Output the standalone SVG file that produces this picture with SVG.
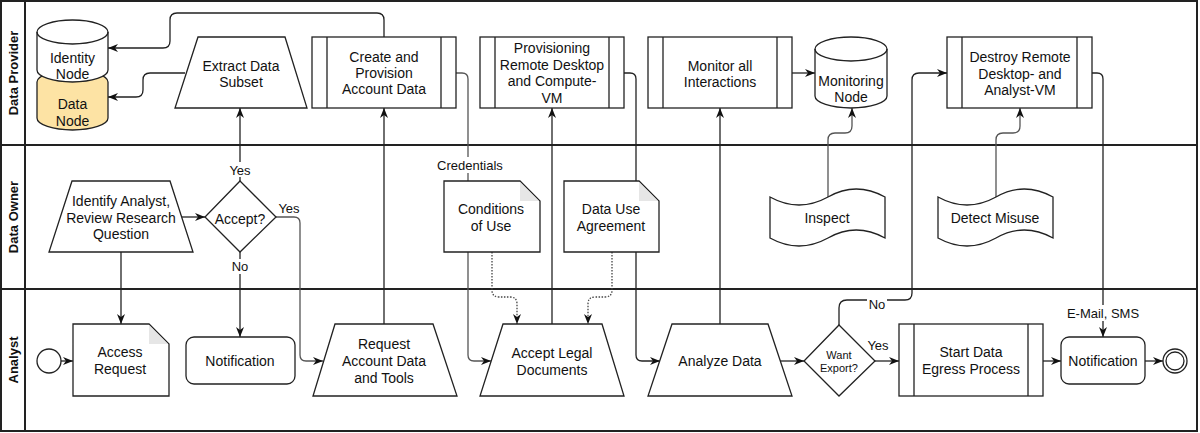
<svg xmlns="http://www.w3.org/2000/svg" width="1200" height="433" viewBox="0 0 1200 433">
<style>
.s{fill:#fff;stroke:#222;stroke-width:1.3}
.il{fill:none;stroke:#222;stroke-width:1.3}
.t{font-family:"Liberation Sans",Arial,sans-serif;font-size:14px;fill:#111;text-anchor:middle;dominant-baseline:central}
.lbl{font-family:"Liberation Sans",Arial,sans-serif;font-size:13px;fill:#111;text-anchor:middle;dominant-baseline:central}
.lane{font-family:"Liberation Sans",Arial,sans-serif;font-size:13px;font-weight:bold;fill:#111;text-anchor:middle;dominant-baseline:central}
.c{fill:none;stroke:#222;stroke-width:1.3;marker-end:url(#arr)}
.cg{fill:none;stroke:#555;stroke-width:1.3;marker-end:url(#arr)}
.d{fill:none;stroke:#444;stroke-width:1.3;stroke-dasharray:1.5 1.5;marker-end:url(#arr)}
.fold{fill:#e6e6e6;stroke:none}
.lb{fill:#fff;stroke:none}
.bd{fill:none;stroke:#222;stroke-width:2}
</style>
<defs>
<marker id="arr" viewBox="0 0 10 8" refX="10" refY="4" markerWidth="10" markerHeight="8" markerUnits="userSpaceOnUse" orient="auto"><path d="M0,0 L10,4 L0,8 L3,4 Z" fill="#111"/></marker>
</defs>
<rect x="0" y="0" width="1200" height="433" fill="#fff"/>
<g id="lanes">
<rect class="bd" x="1" y="1" width="1196" height="430"/>
<line class="bd" x1="25" y1="1" x2="25" y2="431"/>
<line class="bd" x1="1" y1="145" x2="1197" y2="145"/>
<line class="bd" x1="1" y1="289" x2="1197" y2="289"/>
<text class="lane" transform="translate(13,73) rotate(-90)">Data Provider</text>
<text class="lane" transform="translate(13,217) rotate(-90)">Data Owner</text>
<text class="lane" transform="translate(13,360) rotate(-90)">Analyst</text>
</g>
<g id="connectors">
<path class="c" d="M384,37 V20 Q384,13 377,13 H177 Q170,13 170,20 V41 Q170,48 163,48 H108"/>
<path class="c" d="M185,73 H150 Q143,73 143,80 V90 Q143,97 136,97 H108"/>
<path class="c" d="M240,181 V108"/>
<path class="c" d="M240,252 V337"/>
<path class="cg" d="M276,217 H294 Q300,217 300,223 V355 Q300,361 306,361 H323"/>
<path class="c" d="M182,217 H205"/>
<path class="c" d="M121,252 V324"/>
<path class="c" d="M61,361 H73"/>
<path class="c" d="M384,324 V108"/>
<path class="cg" d="M456,73 H462 Q468,73 468,79 V355 Q468,361 474,361 H491"/>
<path class="c" d="M552,324 V108"/>
<path class="d" d="M492,252 V290 Q492,297 499,297 H510 Q517,297 517,304 V324"/>
<path class="d" d="M612,252 V290 Q612,297 605,297 H595 Q588,297 588,304 V324"/>
<path class="c" d="M624,73 H630 Q636,73 636,79 V355 Q636,361 642,361 H660"/>
<path class="c" d="M720,324 V108"/>
<path class="c" d="M792,73 H815"/>
<path class="c" d="M780,361 H804"/>
<path class="c" d="M875,361 H899"/>
<path class="c" d="M839,325 V308 Q839,300 847,300 H905 Q912,300 912,293 V80 Q912,73 919,73 H947"/>
<path class="cg" d="M828,197 V140 Q828,133 835,133 H845 Q852,133 852,126 V108"/>
<path class="cg" d="M996,197 V140 Q996,133 1003,133 H1013 Q1020,133 1020,126 V108"/>
<path class="c" d="M1092,73 H1097 Q1103,73 1103,79 V337"/>
<path class="c" d="M1043,361 H1061"/>
<path class="c" d="M1145,361 H1163"/>
<rect class="lb" x="228" y="162" width="24" height="15"/>
<text class="lbl" x="240" y="170">Yes</text>
<rect class="lb" x="231" y="259" width="18" height="15"/>
<text class="lbl" x="240" y="266">No</text>
<text class="lbl" x="289" y="208">Yes</text>
<rect class="lb" x="437" y="157" width="66" height="16"/>
<text class="lbl" x="470" y="165">Credentials</text>
<rect class="lb" x="867" y="297" width="20" height="15"/>
<text class="lbl" x="877" y="304">No</text>
<text class="lbl" x="878" y="345">Yes</text>
<rect class="lb" x="1066" y="305" width="74" height="16"/>
<text class="lbl" x="1103" y="313">E-Mail, SMS</text>
</g>
<g id="data-node">
<path class="s" d="M37,82 A35.5,12 0 0 1 108,82 V118 A35.5,12 0 0 1 37,118 Z" style="fill:#fde3a4"/>
<text class="t" x="72.5" y="104">Data</text>
<text class="t" x="72.5" y="121">Node</text>
</g>
<g id="identity-node">
<path class="s" d="M37,32 A35.5,12 0 0 1 108,32 V70 A35.5,12 0 0 1 37,70 Z"/>
<path class="il" d="M37,32 A35.5,12 0 0 0 108,32"/>
<text class="t" x="72.5" y="58">Identity</text>
<text class="t" x="72.5" y="74">Node</text>
</g>
<g id="extract">
<path class="s" d="M198,37 H285 L307,108 H175 Z"/>
<text class="t" x="241" y="66">Extract Data</text>
<text class="t" x="241" y="82">Subset</text>
</g>
<g id="create">
<rect class="s" x="312" y="37" width="144" height="71"/>
<path class="il" d="M327,37 V108 M441,37 V108"/>
<text class="t" x="384" y="57">Create and</text>
<text class="t" x="384" y="73">Provision</text>
<text class="t" x="384" y="89">Account Data</text>
</g>
<g id="provisioning">
<rect class="s" x="480" y="37" width="144" height="71"/>
<path class="il" d="M495,37 V108 M609,37 V108"/>
<text class="t" x="552" y="48">Provisioning</text>
<text class="t" x="552" y="65">Remote Desktop</text>
<text class="t" x="552" y="81">and Compute-</text>
<text class="t" x="552" y="98">VM</text>
</g>
<g id="monitor">
<rect class="s" x="648" y="37" width="144" height="71"/>
<path class="il" d="M663,37 V108 M777,37 V108"/>
<text class="t" x="720" y="66">Monitor all</text>
<text class="t" x="720" y="82">Interactions</text>
</g>
<g id="monitoring-node">
<path class="s" d="M815,49 A36,12 0 0 1 887,49 V96 A36,12 0 0 1 815,96 Z"/>
<path class="il" d="M815,49 A36,12 0 0 0 887,49"/>
<text class="t" x="851" y="81">Monitoring</text>
<text class="t" x="851" y="97">Node</text>
</g>
<g id="destroy">
<rect class="s" x="947" y="37" width="145" height="71"/>
<path class="il" d="M962,37 V108 M1077,37 V108"/>
<text class="t" x="1020" y="57">Destroy Remote</text>
<text class="t" x="1020" y="74">Desktop- and</text>
<text class="t" x="1020" y="90">Analyst-VM</text>
</g>
<g id="identify">
<path class="s" d="M72,181 H170 L193,252 H49 Z"/>
<text class="t" x="121" y="201">Identify Analyst,</text>
<text class="t" x="121" y="218">Review Research</text>
<text class="t" x="121" y="234">Question</text>
</g>
<g id="accept-decision">
<path class="s" d="M240,181 L276,217 L240,252 L205,217 Z"/>
<text class="t" x="240" y="219">Accept?</text>
</g>
<g id="conditions">
<path class="s" d="M444,181 H520 L540,201 V252 H444 Z"/>
<path class="fold" d="M520,182 L539,201 H520 Z"/>
<text class="t" x="491" y="209">Conditions</text>
<text class="t" x="491" y="226">of Use</text>
</g>
<g id="agreement">
<path class="s" d="M564,181 H639 L659,201 V252 H564 Z"/>
<path class="fold" d="M639,182 L658,201 H639 Z"/>
<text class="t" x="611" y="209">Data Use</text>
<text class="t" x="611" y="226">Agreement</text>
</g>
<g id="inspect">
<path class="s" d="M770,197 Q799,213 828,197 Q856,181 885,197 V238 Q856,222 828,238 Q799,254 770,238 Z"/>
<text class="t" x="827" y="218">Inspect</text>
</g>
<g id="detect">
<path class="s" d="M938,197 Q967,213 996,197 Q1024,181 1053,197 V238 Q1024,222 996,238 Q967,254 938,238 Z"/>
<text class="t" x="995" y="218">Detect Misuse</text>
</g>
<g id="start">
<circle class="s" cx="49" cy="361" r="12"/>
</g>
<g id="access-request">
<path class="s" d="M73,324 H149 L169,344 V396 H73 Z"/>
<path class="fold" d="M149,325 L168,344 H149 Z"/>
<text class="t" x="120" y="352">Access</text>
<text class="t" x="120" y="369">Request</text>
</g>
<g id="notification-1">
<rect class="s" x="186" y="337" width="109" height="47" rx="8"/>
<text class="t" x="240" y="361">Notification</text>
</g>
<g id="request">
<path class="s" d="M335,324 H433 L457,396 H313 Z"/>
<text class="t" x="384" y="344">Request</text>
<text class="t" x="384" y="361">Account Data</text>
<text class="t" x="384" y="378">and Tools</text>
</g>
<g id="accept-legal">
<path class="s" d="M503,324 H602 L624,396 H480 Z"/>
<text class="t" x="552" y="353">Accept Legal</text>
<text class="t" x="552" y="370">Documents</text>
</g>
<g id="analyze">
<path class="s" d="M672,324 H768 L792,396 H648 Z"/>
<text class="t" x="720" y="361">Analyze Data</text>
</g>
<g id="want-export">
<path class="s" d="M839,325 L875,361 L839,396 L804,361 Z"/>
<text class="t" x="839" y="355" style="font-size:11px">Want</text>
<text class="t" x="839" y="368" style="font-size:11px">Export?</text>
</g>
<g id="egress">
<rect class="s" x="899" y="324" width="144" height="72"/>
<path class="il" d="M914,324 V396 M1028,324 V396"/>
<text class="t" x="971" y="352">Start Data</text>
<text class="t" x="971" y="369">Egress Process</text>
</g>
<g id="notification-2">
<rect class="s" x="1061" y="337" width="84" height="47" rx="8"/>
<text class="t" x="1103" y="361">Notification</text>
</g>
<g id="end">
<circle class="s" cx="1175" cy="361" r="12"/>
<circle class="s" cx="1175" cy="361" r="9"/>
</g>
</svg>
